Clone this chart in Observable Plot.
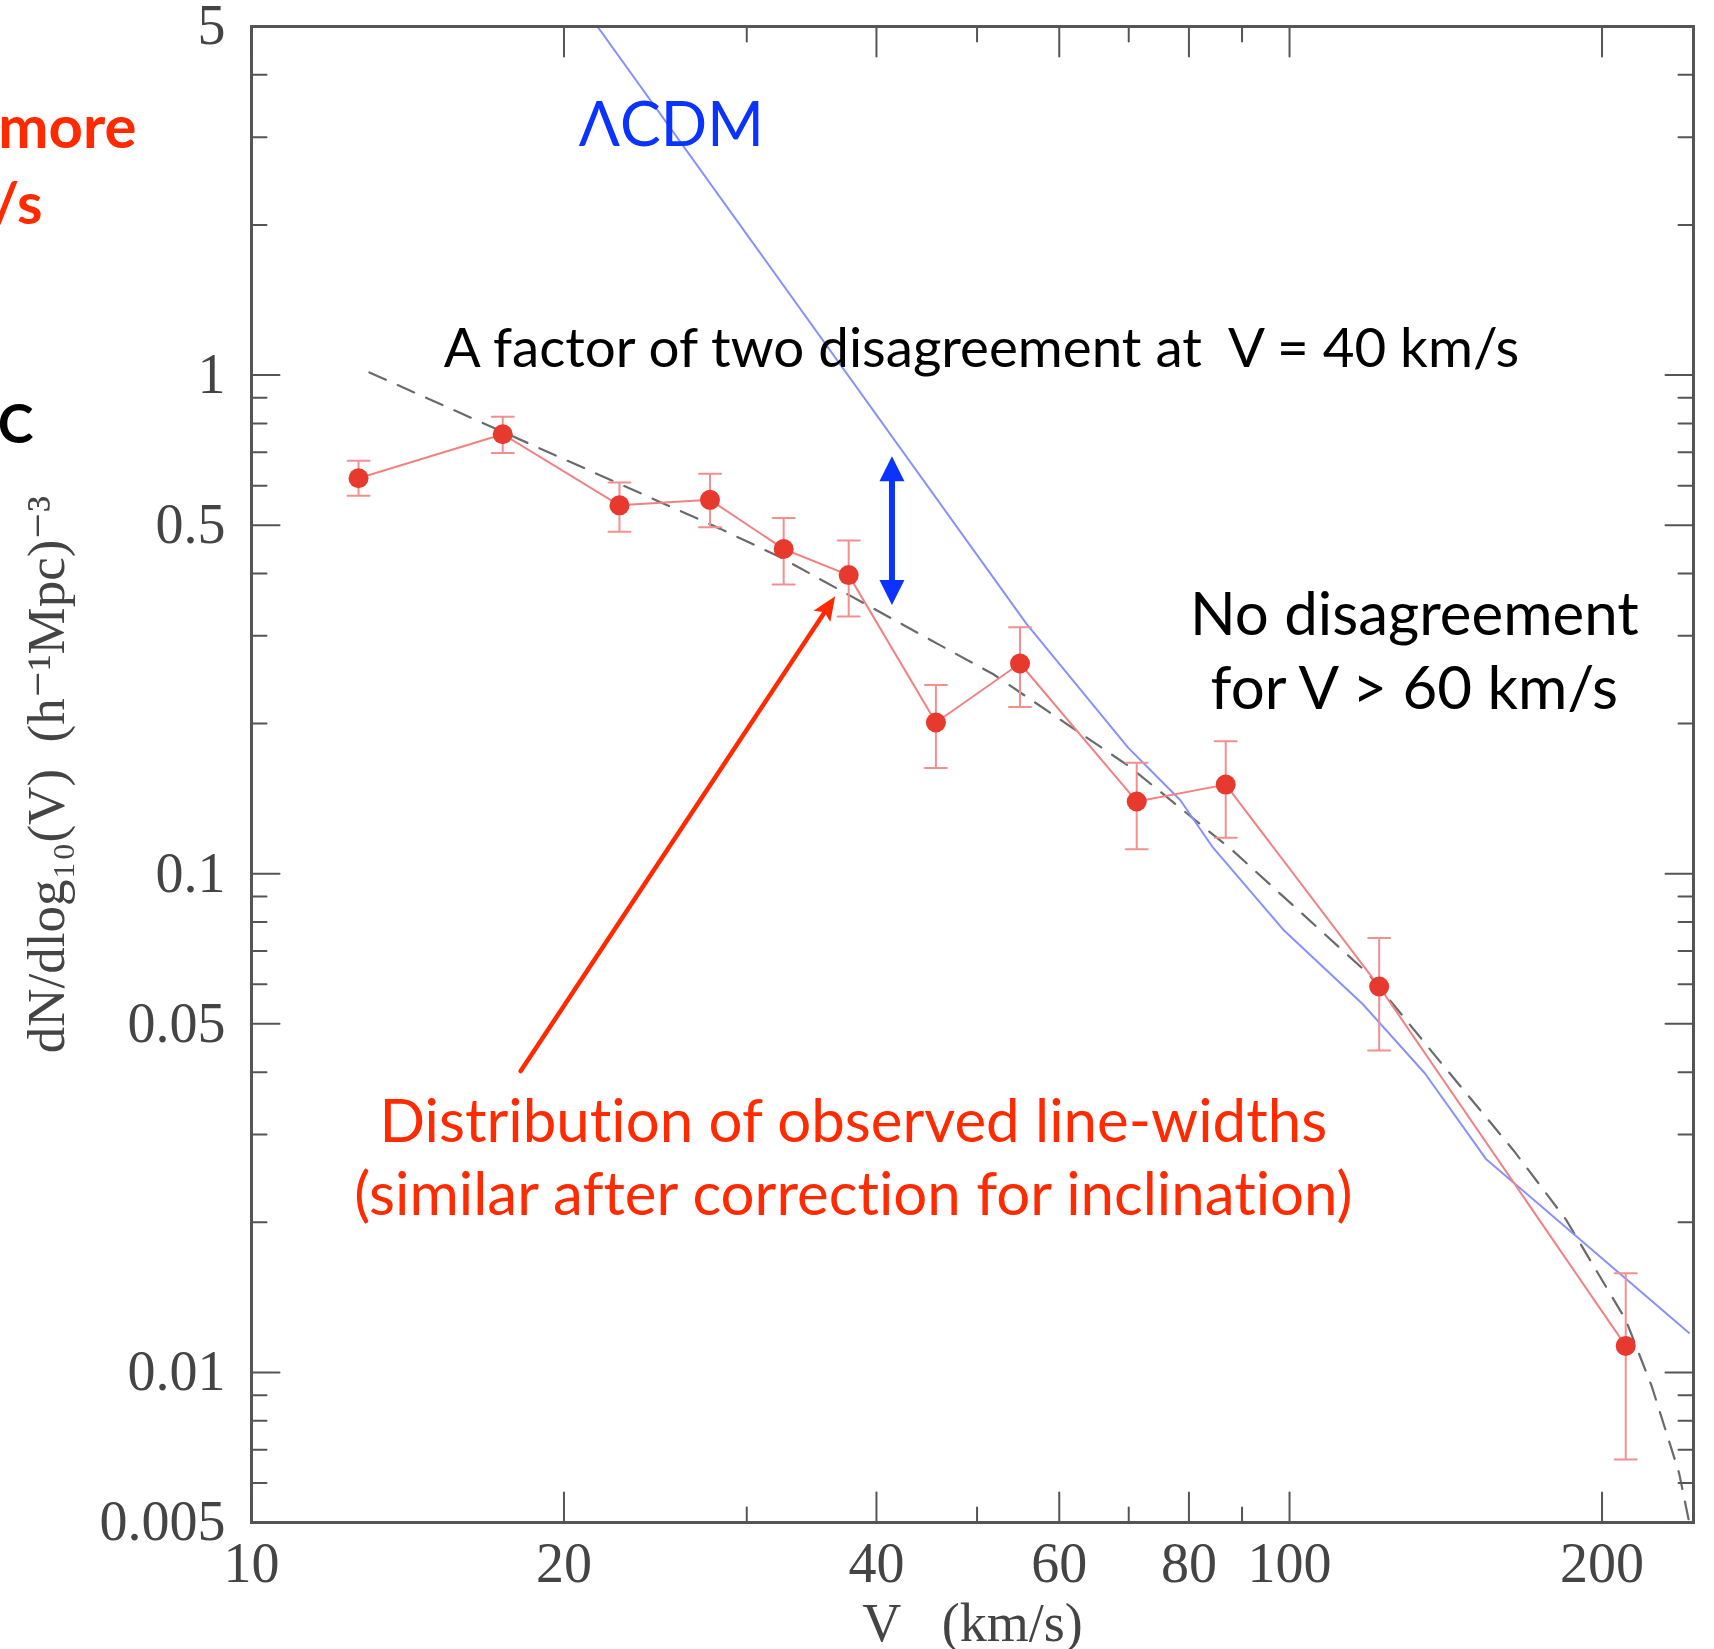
<!DOCTYPE html>
<html><head><meta charset="utf-8">
<script src="https://cdn.jsdelivr.net/npm/d3@7"></script>
<script src="https://cdn.jsdelivr.net/npm/@observablehq/plot@0.6"></script>
<style>
html,body{margin:0;padding:0;background:#fff;overflow:hidden;}
svg{display:block;}
svg text{font-variant-ligatures:none;}
</style>
</head><body><div id="chart"></div>
<script>
// ---- observed line-width distribution (red points with error bars)
const obsV  = [12.68, 17.46, 22.62, 27.65, 32.56, 37.61, 45.64, 55.0, 71.25, 86.8, 122.0, 210.8];
const obsN  = [0.621, 0.761, 0.548, 0.562, 0.448, 0.397, 0.201, 0.264, 0.1396, 0.1509, 0.0594, 0.0113];
const obsLo = [0.573, 0.698, 0.485, 0.495, 0.380, 0.328, 0.163, 0.216, 0.112, 0.1181, 0.0442, 0.00669];
const obsHi = [0.673, 0.825, 0.609, 0.634, 0.517, 0.466, 0.239, 0.312, 0.167, 0.1843, 0.0743, 0.0158];

// ---- LambdaCDM prediction (blue)
const lcdmV = [21.54, 55.8, 69.9, 78.5, 84.2, 98.8, 117.6, 135.0, 154.6, 242.6];
const lcdmN = [5.0, 0.317, 0.179, 0.1404, 0.1135, 0.0769, 0.0548, 0.0398, 0.0268, 0.0120];

// ---- fitted function (dashed)
const fitV = [12.99, 28.30, 32.33, 45.86, 51.85, 70.05, 88.19, 119.0, 139.5, 164.3, 184.5, 210.8, 223.4, 237.3, 242.6];
const fitN = [1.012, 0.4915, 0.431, 0.2887, 0.2512, 0.1642, 0.1112, 0.0631, 0.0421, 0.0279, 0.0203, 0.01275, 0.00936, 0.00628, 0.00502];

// ---- axes
const xDomain = [10, 245];
const yDomain = [0.005, 5];
const xTicksMajor = [10, 20, 40, 60, 80, 100, 200];
const xTickLabels = ["10", "20", "40", "60", "80", "100", "200"];
const xTicksMinor = [30, 50, 70, 90];
const yTicksMajor = [5, 1, 0.5, 0.1, 0.05, 0.01, 0.005];
const yTickLabels = ["5", "1", "0.5", "0.1", "0.05", "0.01", "0.005"];
const yTicksMinor = [4, 3, 2, 0.9, 0.8, 0.7, 0.6, 0.4, 0.3, 0.2, 0.09, 0.08, 0.07, 0.06, 0.04, 0.03, 0.02, 0.009, 0.008, 0.007, 0.006];
const xTitle = "V\u00a0\u00a0 (km/s)";
const yTitle = "dN/dlog\u2081\u2080(V)\u00a0 (h\u207b\u00b9Mpc)\u207b\u00b3";

// ---- annotations (in data units)
const lcdmLabel = {x: 20.67, y: 2.877, text: "\u039bCDM"};
const factorLabel = {x: 15.32, y: 1.037, text: "A factor of two disagreement at\u00a0 V = 40 km/s"};
const noDisLabel = {x: 131.9, y: 0.214, text: "No disagreement\nfor V > 60 km/s"};
const obsLabel = {x: 38.0, y: 0.0207, text: "Distribution of observed line-widths\n(similar after correction for inclination)"};
const factorArrow = {x: 41.4, lo: 0.346, hi: 0.687};
const obsArrow = {x1: 18.17, y1: 0.0402, x2: 36.5, y2: 0.360};
// fragments of slide text cut off at the left edge
const cutMore = "more";
const cutKms = "/s";
const cutC = "C";

// ---- layout
const W = 1714, H = 1649, mL = 251, mR = 21, mT = 26, mB = 127;
const axisColor = "#555";
const labelColor = "#444";

const obs = obsV.map((v, i) => ({v, n: obsN[i], lo: obsLo[i], hi: obsHi[i]}));
const lcdm = lcdmV.map((v, i) => ({v, n: lcdmN[i]}));
const fit = fitV.map((v, i) => ({v, n: fitN[i]}));

const tickShape = {draw(ctx, l) { ctx.moveTo(0, 0); ctx.lineTo(0, -l); }};
// tip at the anchor point, base at distance l along the vector direction
const triShape = {draw(ctx, l) { ctx.moveTo(0, 0); ctx.lineTo(-0.5 * l, -l); ctx.lineTo(0.5 * l, -l); ctx.closePath(); }};
const headShape = {draw(ctx, l) { ctx.moveTo(0, 0); ctx.lineTo(-0.42 * l, -l); ctx.lineTo(0, -0.8 * l); ctx.lineTo(0.42 * l, -l); ctx.closePath(); }};

// angle of the red arrow on screen, from the same scales Plot uses
const sx = Plot.scale({x: {type: "log", domain: xDomain, range: [mL, W - mR]}});
const sy = Plot.scale({y: {type: "log", domain: yDomain, range: [H - mB, mT]}});
const ang = Math.atan2(sx.apply(obsArrow.x2) - sx.apply(obsArrow.x1), -(sy.apply(obsArrow.y2) - sy.apply(obsArrow.y1))) * 180 / Math.PI;

function ticks(values, ch, anchor, rotate, length) {
  const o = {frameAnchor: anchor, rotate, length, anchor: "start", shape: tickShape, stroke: axisColor, strokeWidth: 2};
  o[ch] = d => d;
  return Plot.vector(values, o);
}

const serif = "Liberation Serif, DejaVu Serif, serif";
const sans = "Lato, 'Gill Sans', 'Open Sans', sans-serif";

const chart = Plot.plot({
  width: W, height: H,
  marginLeft: mL, marginRight: mR, marginTop: mT, marginBottom: mB,
  x: {type: "log", domain: xDomain},
  y: {type: "log", domain: yDomain, axis: null},
  style: {background: "#fff"},
  marks: [
    // data
    Plot.line(fit, {x: "v", y: "n", stroke: "#6a6a6a", strokeWidth: 2.2, strokeDasharray: "18,13", clip: true}),
    Plot.line(lcdm, {x: "v", y: "n", stroke: "#8690ff", strokeWidth: 2, clip: true}),
    Plot.line(obs, {x: "v", y: "n", stroke: "#f08282", strokeWidth: 2}),
    Plot.ruleX(obs, {x: "v", y1: "lo", y2: "hi", stroke: "#f29090", strokeWidth: 2}),
    Plot.vector(obs, {x: "v", y: "hi", rotate: 90, anchor: "middle", length: 22, shape: tickShape, stroke: "#f29090", strokeWidth: 2}),
    Plot.vector(obs, {x: "v", y: "lo", rotate: 90, anchor: "middle", length: 22, shape: tickShape, stroke: "#f29090", strokeWidth: 2}),
    Plot.dot(obs, {x: "v", y: "n", r: 10, fill: "#e8392e"}),
    // frame and inward ticks on all sides
    Plot.frame({stroke: axisColor, strokeWidth: 3}),
    ticks(xTicksMajor, "x", "bottom", 0, 30),
    ticks(xTicksMinor, "x", "bottom", 0, 15),
    ticks(xTicksMajor, "x", "top", 180, 30),
    ticks(xTicksMinor, "x", "top", 180, 15),
    ticks(yTicksMajor, "y", "left", 90, 28),
    ticks(yTicksMinor, "y", "left", 90, 15),
    ticks(yTicksMajor, "y", "right", -90, 28),
    ticks(yTicksMinor, "y", "right", -90, 15),
    Plot.axisX({anchor: "bottom", ticks: xTicksMajor, tickSize: 0, tickPadding: 20,
      tickFormat: d => xTickLabels[xTicksMajor.indexOf(d)], fontSize: 56, fontFamily: serif, fill: labelColor, label: null}),
    Plot.text(yTicksMajor, {y: d => d, text: (d, i) => yTickLabels[i], frameAnchor: "left", dx: -26, textAnchor: "end", lineAnchor: "middle",
      fontSize: 56, fontFamily: serif, fill: labelColor}),
    Plot.text([xTitle], {frameAnchor: "bottom", dy: 118, lineAnchor: "bottom", fontSize: 54, fontFamily: serif, fill: labelColor, text: d => d}),
    Plot.text([yTitle], {frameAnchor: "left", dx: -188, rotate: -90, lineAnchor: "bottom", textAnchor: "middle", fontSize: 53, fontFamily: serif, fill: labelColor, text: d => d}),
    // annotations
    Plot.text([lcdmLabel], {x: "x", y: "y", text: "text", textAnchor: "start", lineAnchor: "bottom", fontSize: 61, fontFamily: sans, fill: "#0a33ff"}),
    Plot.text([factorLabel], {x: "x", y: "y", text: "text", textAnchor: "start", lineAnchor: "bottom", fontSize: 54.7, fontFamily: sans, fill: "#000"}),
    Plot.text([noDisLabel], {x: "x", y: "y", text: "text", textAnchor: "middle", lineAnchor: "bottom", lineHeight: 1.24, fontSize: 60, fontFamily: sans, fill: "#000"}),
    Plot.text([obsLabel], {x: "x", y: "y", text: "text", textAnchor: "middle", lineAnchor: "bottom", lineHeight: 1.22, fontSize: 60, fontFamily: sans, fill: "#ff2a00"}),
    // y1 is the upper end so the insets shorten the shaft toward its middle
    Plot.ruleX([factorArrow], {x: "x", y1: "hi", y2: "lo", stroke: "#0a33ff", strokeWidth: 6, insetTop: 20, insetBottom: 20}),
    Plot.vector([factorArrow], {x: "x", y: "hi", rotate: 180, anchor: "start", length: 25, shape: triShape, fill: "#0a33ff", stroke: "none"}),
    Plot.vector([factorArrow], {x: "x", y: "lo", rotate: 0, anchor: "start", length: 25, shape: triShape, fill: "#0a33ff", stroke: "none"}),
    Plot.arrow([obsArrow], {x1: "x1", y1: "y1", x2: "x2", y2: "y2", stroke: "#ff2a00", strokeWidth: 4.5, headLength: 0, insetEnd: 14}),
    Plot.vector([obsArrow], {x: "x2", y: "y2", rotate: ang + 180, anchor: "start", length: 24, shape: headShape, fill: "#ff2a00", stroke: "none"}),
    // text cut off at the slide's left edge
    Plot.text([cutMore], {frameAnchor: "top-left", dx: -115, dy: 121, text: d => d, fill: "#ff2a00", textAnchor: "end", lineAnchor: "bottom", fontSize: 60, fontWeight: "bold", fontFamily: sans}),
    Plot.text([cutKms], {frameAnchor: "top-left", dx: -209, dy: 197, text: d => d, fill: "#ff2a00", textAnchor: "end", lineAnchor: "bottom", fontSize: 58, fontWeight: "bold", fontFamily: sans}),
    Plot.text([cutC], {frameAnchor: "top-left", dx: -218, dy: 416, text: d => d, fill: "#000", textAnchor: "end", lineAnchor: "bottom", fontSize: 54, fontWeight: "bold", fontFamily: sans})
  ]
});
document.getElementById("chart").appendChild(chart);
</script>
</body></html>
